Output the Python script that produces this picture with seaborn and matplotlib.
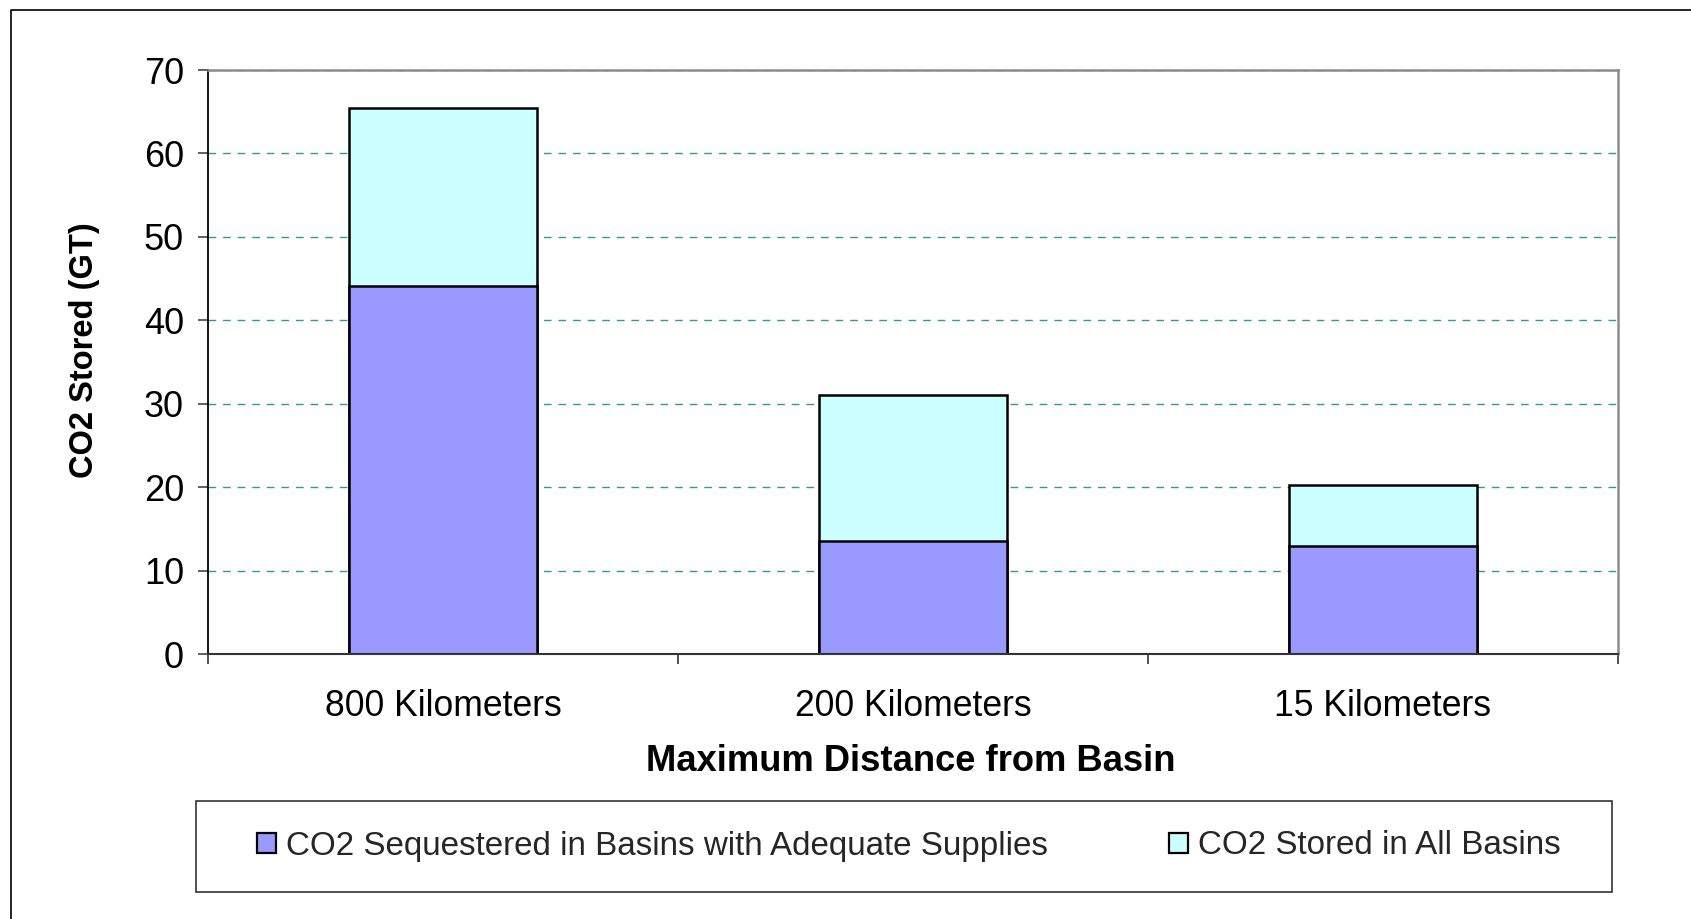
import matplotlib
matplotlib.use("Agg")
import matplotlib.pyplot as plt
import seaborn as sns
import pandas as pd
from matplotlib.patches import Patch, Rectangle
from matplotlib.lines import Line2D
from matplotlib.ticker import FixedLocator

# ---- data ----
categories = ["800 Kilometers", "200 Kilometers", "15 Kilometers"]
sequestered = [44.1, 13.6, 13.0]          # CO2 Sequestered in Basins with Adequate Supplies
stored_all_total = [65.4, 31.0, 20.3]     # top of stack: CO2 Stored in All Basins
series_names = ["CO2 Sequestered in Basins with Adequate Supplies",
                "CO2 Stored in All Basins"]
y_ticks = [0, 10, 20, 30, 40, 50, 60, 70]

color_seq = "#9999FF"
color_all = "#CCFFFF"

sns.set_theme(style="white")
plt.rcParams["font.family"] = ["Liberation Sans", "DejaVu Sans"]

W, H = 1691, 919
fig = plt.figure(figsize=(W / 100, H / 100), dpi=100)
ax = fig.add_axes([208 / W, 1 - 654 / H, 1410 / W, 584 / H])

df = pd.DataFrame({"cat": categories, "seq": sequestered, "all": stored_all_total})

sns.barplot(data=df, x="cat", y="all", color=color_all, saturation=1,
            edgecolor="black", linewidth=1.8, width=0.4, errorbar=None, ax=ax)
sns.barplot(data=df, x="cat", y="seq", color=color_seq, saturation=1,
            edgecolor="black", linewidth=1.8, width=0.4, errorbar=None, ax=ax)

ax.set_xlim(-0.5, 2.5)
ax.set_ylim(0, 70)
ax.set_yticks(y_ticks)
ax.set_yticklabels([str(t) for t in y_ticks])

ax.set_axisbelow(True)
ax.yaxis.grid(True, color="#2e9999", linestyle=(0, (5.5, 5)), linewidth=1.0)
ax.xaxis.grid(False)

# ticks
ax.tick_params(axis="x", which="major", bottom=True, length=0, pad=25,
               labelsize=25.6, labelcolor="black")
ax.xaxis.set_minor_locator(FixedLocator([-0.5, 0.5, 1.5, 2.5]))
ax.tick_params(axis="x", which="minor", bottom=True, length=7.2, width=1.2,
               color="#333333", direction="out")
ax.tick_params(axis="y", which="major", left=True, length=7.2, width=1.2,
               color="#444444", direction="out", pad=10, labelsize=26,
               labelcolor="black")

# spines
for s in ["top", "right"]:
    ax.spines[s].set_color("#8c8c8c")
    ax.spines[s].set_linewidth(1.8)
ax.spines["left"].set_color("black")
ax.spines["left"].set_linewidth(1.3)
ax.spines["bottom"].set_color("#333333")
ax.spines["bottom"].set_linewidth(1.5)

# labels
ax.set_ylabel("CO2 Stored (GT)", fontsize=23.5, fontweight="bold", color="black")
ax.yaxis.set_label_coords(-0.0876, 0.5197)
ax.yaxis.label.set_va("center")
ax.set_xlabel("Maximum Distance from Basin", fontsize=26.2, fontweight="bold",
              color="black")
ax.xaxis.set_label_coords(0.4986, -0.2003)
ax.xaxis.label.set_va("baseline")

# legend
handles = [Patch(facecolor=color_seq, edgecolor="black", linewidth=1.6),
           Patch(facecolor=color_all, edgecolor="black", linewidth=1.6)]
fig.legend(handles, series_names, loc="center",
           bbox_to_anchor=(908.5 / W, 1 - 846 / H), ncol=2, frameon=False,
           fontsize=23.9, handlelength=0.57, handleheight=0.57,
           handletextpad=0.3, columnspacing=3.65, borderpad=0, borderaxespad=0)
fig.add_artist(Rectangle((196 / W, 1 - 892 / H), 1416 / W, 91 / H,
                         transform=fig.transFigure, fill=False,
                         edgecolor="#333333", linewidth=1.2))

# outer border (left and top only)
fig.add_artist(Line2D([10.5 / W, 10.5 / W, 1], [0, 1 - 9.5 / H, 1 - 9.5 / H],
                      transform=fig.transFigure, color="black", linewidth=1.2))

fig.savefig("out.png", dpi=100)
